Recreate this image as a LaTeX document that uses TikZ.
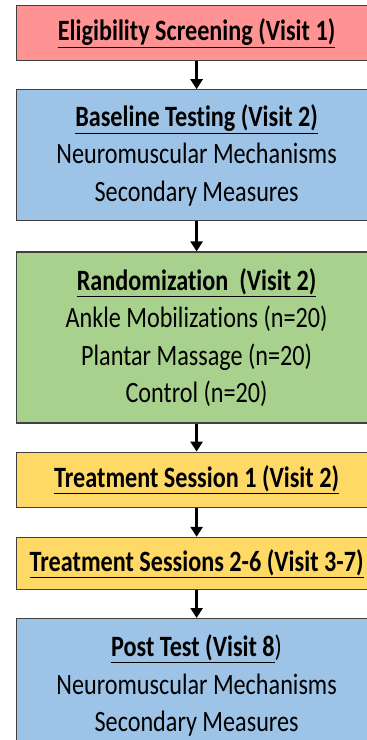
\documentclass[tikz,border=0pt]{standalone}
\usepackage{fontspec}
\setmainfont{Carlito}[FakeStretch=0.82, Ligatures=NoCommon]
\usetikzlibrary{arrows.meta,positioning}

\definecolor{screenpink}{HTML}{FF9393}
\definecolor{testblue}{HTML}{9DC3E6}
\definecolor{randgreen}{HTML}{A9D18E}
\definecolor{treatyellow}{HTML}{FFD966}
\definecolor{edgegray}{HTML}{404040}

\begin{document}
\begin{tikzpicture}[
    x=1pt, y=1pt,
    node distance=28pt,
    stage/.style={rectangle, draw=edgegray, line width=1.2pt, minimum width=360pt, inner sep=0pt, align=center, font=\fontsize{29.5}{37.5}\selectfont},
    flow/.style={-{Triangle[width=12pt,length=10pt]}, line width=2.8pt}
]
\useasboundingbox (0,0) rectangle (367,-740);
\clip (0,0) rectangle (367,-740);

% Screening
\node[stage, fill=screenpink, minimum height=55pt, anchor=north west] (screen) at (16,-5) {\underline{\textbf{Eligibility Screening (Visit 1)}}};

% Baseline testing
\node[stage, fill=testblue, minimum height=131pt, below=28pt of screen] (base) {\underline{\textbf{Baseline Testing (Visit 2)}}\\Neuromuscular Mechanisms\\Secondary Measures};

% Randomization
\node[stage, fill=randgreen, minimum height=171pt, below=30pt of base] (rand) {\underline{\textbf{Randomization~~(Visit 2)}}\\Ankle Mobilizations (n=20)\\Plantar Massage (n=20)\\Control (n=20)};

% Treatment sessions
\node[stage, fill=treatyellow, minimum height=55pt, below=28pt of rand] (treat1) {\underline{\textbf{Treatment Session 1 (Visit 2)}}};
\node[stage, fill=treatyellow, minimum height=52pt, below=29pt of treat1] (treat2) {\underline{\textbf{Treatment Sessions 2-6 (Visit 3-7)}}};

% Post test
\node[stage, fill=testblue, minimum height=134pt, below=28pt of treat2] (post) {\underline{\textbf{Post Test (Visit 8}})\\Neuromuscular Mechanisms\\Secondary Measures};

% Arrows
\draw[flow] (screen) -- (base);
\draw[flow] (base) -- (rand);
\draw[flow] (rand) -- (treat1);
\draw[flow] (treat1) -- (treat2);
\draw[flow] (treat2) -- (post);

\end{tikzpicture}
\end{document}
